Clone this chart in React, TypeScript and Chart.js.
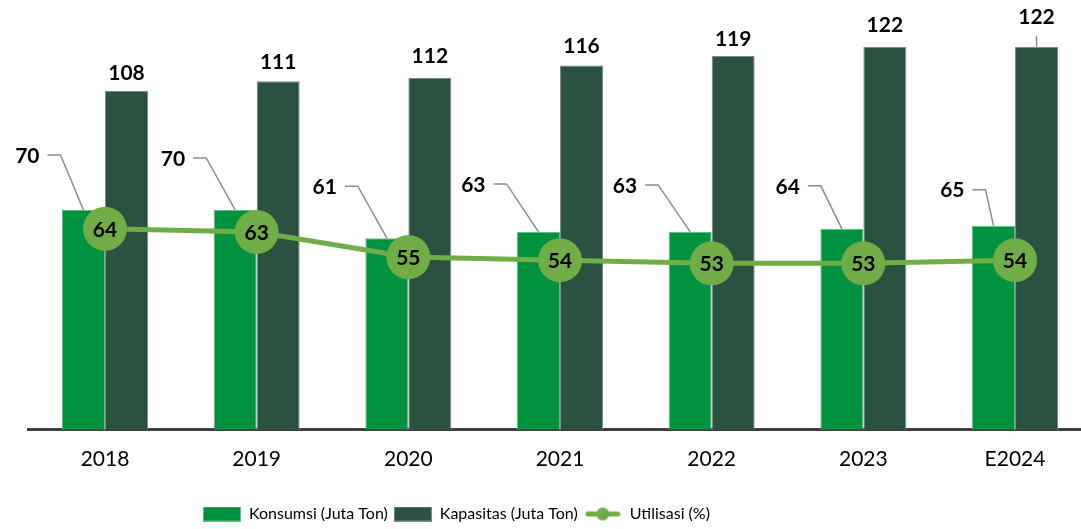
import React, { useEffect, useRef } from "react";
import { Chart, registerables } from "chart.js";

Chart.register(...registerables);

// ---- data ----
const CATEGORIES = ["2018", "2019", "2020", "2021", "2022", "2023", "E2024"];
const KONSUMSI = [70, 70, 61, 63, 63, 64, 65];
const KAPASITAS = [108, 111, 112, 116, 119, 122, 122];
const UTILISASI = [64, 63, 55, 54, 53, 53, 54];
const SERIES_NAMES = ["Konsumsi (Juta Ton)", "Kapasitas (Juta Ton)", "Utilisasi (%)"];

// ---- styles ----
const C_KONSUMSI = "#00923f";
const C_KONSUMSI_BORDER = "#5cbf80";
const C_KAPASITAS = "#2b5141";
const C_KAPASITAS_BORDER = "#7d8d85";
const C_UTIL = "#70ad47";
const LABEL_FONT = "Lato, 'Open Sans', sans-serif";
const LEGEND_FONT = "Lato, 'Open Sans', sans-serif";
// callout elbow offsets (px) for Konsumsi labels, relative to bar top centre
const KONSUMSI_CALLOUT: [number, number][] = [
  [-23, -55], [-29, -52], [-29, -52], [-32, -48], [-32, -47], [-21, -43], [-8, -36],
];
// how far above the bar top the Kapasitas label centre sits
const KAPASITAS_LABEL_RISE = [17, 19, 22, 19, 17, 21, 29];

function makeBox(fill: string, stroke: string) {
  const c = document.createElement("canvas");
  c.width = 38;
  c.height = 15;
  const g = c.getContext("2d")!;
  g.fillStyle = fill;
  g.fillRect(0, 0, 38, 15);
  g.strokeStyle = stroke;
  g.lineWidth = 1;
  g.strokeRect(0.5, 0.5, 37, 14);
  return c;
}

function makeLineMarker(color: string) {
  const c = document.createElement("canvas");
  c.width = 36;
  c.height = 15;
  const g = c.getContext("2d")!;
  g.strokeStyle = color;
  g.lineWidth = 5;
  g.lineCap = "round";
  g.beginPath();
  g.moveTo(3, 7.5);
  g.lineTo(33, 7.5);
  g.stroke();
  g.fillStyle = color;
  g.beginPath();
  g.arc(18, 7.5, 6.5, 0, Math.PI * 2);
  g.fill();
  return c;
}

const labelPlugin = {
  id: "valueLabels",
  afterDatasetsDraw(chart: any) {
    const ctx = chart.ctx as CanvasRenderingContext2D;
    ctx.save();
    ctx.font = `bold 21px ${LABEL_FONT}`;
    ctx.fillStyle = "#000";
    ctx.textBaseline = "middle";
    ctx.strokeStyle = "#8c8c8c";
    ctx.lineWidth = 1.5;

    // Konsumsi callouts
    const m0 = chart.getDatasetMeta(0);
    m0.data.forEach((el: any, i: number) => {
      const [dx, dy] = KONSUMSI_CALLOUT[i];
      const ex = el.x + dx;
      const ey = el.y + dy;
      ctx.beginPath();
      ctx.moveTo(el.x, el.y);
      ctx.lineTo(ex, ey);
      ctx.lineTo(ex - 13, ey);
      ctx.stroke();
      ctx.textAlign = "right";
      ctx.fillText(String(KONSUMSI[i]), ex - 21, ey + 1);
    });

    // Kapasitas labels
    const m1 = chart.getDatasetMeta(1);
    m1.data.forEach((el: any, i: number) => {
      const rise = KAPASITAS_LABEL_RISE[i];
      if (rise > 25) {
        ctx.beginPath();
        ctx.moveTo(el.x, el.y);
        ctx.lineTo(el.x, el.y - rise + 18);
        ctx.stroke();
      }
      ctx.textAlign = "center";
      ctx.fillText(String(KAPASITAS[i]), el.x, el.y - rise);
    });

    // Utilisasi labels in circles
    const m2 = chart.getDatasetMeta(2);
    m2.data.forEach((el: any, i: number) => {
      ctx.textAlign = "center";
      ctx.fillText(String(UTILISASI[i]), el.x, el.y + 1);
    });
    ctx.restore();
  },
};

const legendPlace = {
  id: "legendPlace",
  afterLayout(chart: any) {
    const lg = chart.legend;
    if (!lg) return;
    const h = lg.bottom - lg.top;
    lg.left = 197;
    lg.right = 1081;
    lg.top = 500;
    lg.bottom = 500 + h;
  },
};

export default function App() {
  const ref = useRef<HTMLCanvasElement>(null);
  useEffect(() => {
    if (!ref.current) return;
    const boxes = [
      makeBox(C_KONSUMSI, C_KONSUMSI_BORDER),
      makeBox(C_KAPASITAS, C_KAPASITAS_BORDER),
      makeLineMarker(C_UTIL),
    ];
    const chartLeft = 28;
    const chartRight = 1081;
    const step = 151.67;
    const firstCenter = 105;
    const xMin = -(firstCenter - chartLeft) / step;
    const xMax = xMin + (chartRight - chartLeft) / step;
    const yMax = 427 / 3.12;

    const chart = new Chart(ref.current, {
      type: "bar",
      data: {
        datasets: [
          {
            type: "bar",
            label: SERIES_NAMES[0],
            data: KONSUMSI.map((v, i) => ({ x: i, y: v })),
            backgroundColor: C_KONSUMSI,
            borderColor: C_KONSUMSI_BORDER,
            borderWidth: 1,
            categoryPercentage: 0.567,
            barPercentage: 1,
            order: 1,
          },
          {
            type: "bar",
            label: SERIES_NAMES[1],
            data: KAPASITAS.map((v, i) => ({ x: i, y: v })),
            backgroundColor: C_KAPASITAS,
            borderColor: C_KAPASITAS_BORDER,
            borderWidth: 1,
            categoryPercentage: 0.567,
            barPercentage: 1,
            order: 1,
          },
          {
            type: "line",
            label: SERIES_NAMES[2],
            data: UTILISASI.map((v, i) => ({ x: i, y: v })),
            borderColor: C_UTIL,
            backgroundColor: C_UTIL,
            borderWidth: 5,
            pointRadius: 22,
            pointBackgroundColor: C_UTIL,
            pointBorderWidth: 0,
            tension: 0,
            order: 0,
          } as any,
        ],
      },
      options: {
        responsive: false,
        animation: false,
        events: [],
        layout: { autoPadding: false, padding: { left: chartLeft, right: 0, top: 0, bottom: 8 } },
        scales: {
          x: {
            type: "linear",
            offset: false,
            min: xMin,
            max: xMax,
            afterBuildTicks: (scale: any) => {
              scale.ticks = CATEGORIES.map((_, i) => ({ value: i }));
            },
            grid: { display: false, drawTicks: false, offset: false },
            border: { display: true, color: "#404040", width: 3 },
            ticks: {
              autoSkip: false,
              maxRotation: 0,
              padding: 17,
              color: "#000",
              font: { family: LABEL_FONT, size: 21 },
              callback: (v: any) => CATEGORIES[v as number] ?? "",
            },
          },
          y: {
            display: false,
            min: 0,
            max: yMax,
          },
        },
        plugins: {
          tooltip: { enabled: false },
          legend: {
            position: "bottom",
            align: "start",
            labels: {
              usePointStyle: true,
              pointStyleWidth: 38,
              padding: 6,
              color: "#000",
              font: { family: LEGEND_FONT, size: 16 },
              generateLabels: () =>
                SERIES_NAMES.map((name, i) => ({
                  text: name,
                  pointStyle: boxes[i] as any,
                  datasetIndex: i,
                  hidden: false,
                  lineWidth: 0,
                  fontColor: "#000",
                })),
            },
          },
        },
      } as any,
      plugins: [labelPlugin, legendPlace],
    });
    return () => chart.destroy();
  }, []);

  return (
    <div style={{ position: "fixed", left: 0, top: 0, width: 1081, height: 529, background: "#fff" }}>
      <canvas ref={ref} width={1081} height={529} style={{ display: "block" }} />
    </div>
  );
}
